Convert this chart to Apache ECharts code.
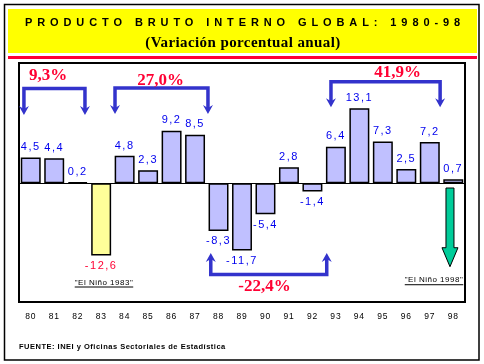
<!DOCTYPE html>
<html>
<head>
<meta charset="utf-8">
<script src="https://cdn.jsdelivr.net/npm/echarts/dist/echarts.min.js"></script>
<style>
html,body{margin:0;padding:0;background:#fff;}
#chart{width:484px;height:364px;}
</style>
</head>
<body>
<div id="chart"></div>
<script>
// ---- data ----
const years = ['80','81','82','83','84','85','86','87','88','89','90','91','92','93','94','95','96','97','98'];
const growth = [4.5, 4.4, 0.2, -12.6, 4.8, 2.3, 9.2, 8.5, -8.3, -11.7, -5.4, 2.8, -1.4, 6.4, 13.1, 7.3, 2.5, 7.2, 0.7];
const spanStart = ['80', '84', '93', '88'];
const spanEnd = ['82', '87', '97', '92'];
const spanLabels = ['9,3%', '27,0%', '41,9%', '-22,4%'];
const ninoYears = ['83', '98'];
const ninoLabels = ['"El Niño 1983"', '"El Niño 1998"'];
const titleText = 'PRODUCTO BRUTO INTERNO GLOBAL: 1980-98';
const subtitleText = '(Variación porcentual anual)';
const sourceText = 'FUENTE: INEI y Oficinas Sectoriales de Estadística';
const highlightYear = '83';
const arrowYear = '98';

// ---- letter spacing support: font family token lsNNx => NN/10 px ----
(function () {
  const proto = CanvasRenderingContext2D.prototype;
  const desc = Object.getOwnPropertyDescriptor(proto, 'font');
  if (!desc || !('letterSpacing' in proto)) return;
  Object.defineProperty(proto, 'font', {
    configurable: true,
    get() { return desc.get.call(this); },
    set(v) {
      desc.set.call(this, v);
      const m = /ls(\d+)x/.exec(v);
      this.letterSpacing = m ? (m[1] / 10) + 'px' : '0px';
    }
  });
})();

// ---- styles / layout ----
const SANS = '"Liberation Sans", Arial';
const SERIF = '"Liberation Serif", "Times New Roman"';
const lavender = '#C0C0FF';
const yellowBar = '#FFFF99';
const labelBlue = '#0000EE';
const red = '#FF0033';
const bracketColor = '#3333CC';
const greenArrow = '#00CC99';

// bracket layout (offsets in category units, y in value units)
const bracketLayout = [
  {dl: 0.21, dr: -0.19, yBar: 16.55, yTip: 11.93, tx: 0.74, ty: 18.74},
  {dl: 0.09, dr: 0.05, yBar: 16.64, yTip: 12.1, tx: 5.53, ty: 17.86},
  {dl: 0.29, dr: -0.06, yBar: 17.74, yTip: 13.3, tx: 15.63, ty: 19.26},
  {dl: 0.17, dr: 0.11, yBar: -15.9, yTip: -12.14, tx: 9.96, ty: -18.09}
];
const ninoLayout = [
  {dx: 0.12, y: -17.3},
  {dx: -0.82, y: -16.9}
];
const arrowLayout = {dx: -0.14, yTop: -0.81, yBase: -11.23, yTip: -14.54};

const ninoFont = '8px ' + SANS + ', ls5x';
const measureCtx = document.createElement('canvas').getContext('2d');
function textWidth(t, font) { measureCtx.font = font; return measureCtx.measureText(t).width; }

const chart = echarts.init(document.getElementById('chart'), null, {renderer: 'canvas'});

const barData = growth.map((v, i) => ({
  value: v,
  itemStyle: {color: years[i] === highlightYear ? yellowBar : lavender},
  label: {
    position: v >= 0 ? 'top' : 'bottom',
    color: years[i] === highlightYear ? red : labelBlue
  }
}));

const option = {
  animation: false,
  backgroundColor: '#fff',
  grid: {left: 19, top: 63, width: 446, height: 239, show: true, borderColor: '#000', borderWidth: 2, backgroundColor: '#fff', containLabel: false},
  xAxis: [
    {
      type: 'category', data: years, position: 'bottom',
      axisLine: {show: false, onZero: false}, axisTick: {show: false}, splitLine: {show: false},
      axisLabel: {margin: 10, fontSize: 8.5, color: '#000', fontFamily: SANS + ', ls8x'}
    },
    {type: 'value', min: -0.5, max: 18.5, show: false}
  ],
  yAxis: [{type: 'value', min: -20.7, max: 21, show: false, splitLine: {show: false}}],
  series: [
    {
      type: 'bar', xAxisIndex: 0, yAxisIndex: 0,
      barWidth: '85%',
      data: barData,
      itemStyle: {borderColor: '#000', borderWidth: 1.5},
      label: {
        show: true, distance: 4, fontSize: 11, fontFamily: SANS + ', ls15x',
        formatter: p => p.value.toFixed(1).replace('.', ',')
      },
      markLine: {
        silent: true, symbol: ['none', 'none'], label: {show: false},
        lineStyle: {color: '#000', width: 1, type: 'solid'},
        data: [{yAxis: 0}]
      },
      z: 2
    },
    {
      type: 'custom', xAxisIndex: 1, yAxisIndex: 0, silent: true, z: 5,
      data: spanLabels.map((_, i) => [i]),
      renderItem: (params, api) => {
        const i = params.dataIndex;
        const L = bracketLayout[i];
        const s = years.indexOf(spanStart[i]);
        const e = years.indexOf(spanEnd[i]);
        const xa = api.coord([s - 0.5 + L.dl, 0])[0];
        const xb = api.coord([e + 0.5 + L.dr, 0])[0];
        const yb = api.coord([0, L.yBar])[1];
        const yt = api.coord([0, L.yTip])[1];
        const dir = yt > yb ? 1 : -1;
        const head = 9, hw = 5;
        const children = [{
          type: 'polyline',
          shape: {points: [[xa, yt - dir * 5], [xa, yb], [xb, yb], [xb, yt - dir * 5]]},
          style: {stroke: bracketColor, lineWidth: 3.5, fill: null, lineJoin: 'miter'}
        }];
        [xa, xb].forEach(x => children.push({
          type: 'polygon',
          shape: {points: [[x, yt], [x - hw, yt - dir * head], [x, yt - dir * 6], [x + hw, yt - dir * head]]},
          style: {fill: bracketColor}
        }));
        const tp = api.coord([L.tx, L.ty]);
        children.push({
          type: 'text', x: tp[0], y: tp[1],
          style: {text: spanLabels[i], fill: red, font: 'bold 17px ' + SERIF, align: 'center', verticalAlign: 'middle'}
        });
        return {type: 'group', children};
      }
    },
    {
      type: 'custom', xAxisIndex: 1, yAxisIndex: 0, silent: true, z: 5,
      data: ninoLabels.map((_, i) => [i]),
      renderItem: (params, api) => {
        const i = params.dataIndex;
        const L = ninoLayout[i];
        const p = api.coord([years.indexOf(ninoYears[i]) + L.dx, L.y]);
        const w = textWidth(ninoLabels[i], ninoFont);
        return {
          type: 'group', children: [
            {type: 'text', x: p[0], y: p[1], style: {text: ninoLabels[i], fill: '#000', font: ninoFont, align: 'center', verticalAlign: 'middle'}},
            {type: 'line', shape: {x1: p[0] - w / 2, y1: p[1] + 4.5, x2: p[0] + w / 2, y2: p[1] + 4.5}, style: {stroke: '#000', lineWidth: 1}}
          ]
        };
      }
    },
    {
      type: 'custom', xAxisIndex: 1, yAxisIndex: 0, silent: true, z: 5,
      data: [[0]],
      renderItem: (params, api) => {
        const cx = years.indexOf(arrowYear) + arrowLayout.dx;
        const x = api.coord([cx, 0])[0];
        const yTop = api.coord([cx, arrowLayout.yTop])[1];
        const yBase = api.coord([cx, arrowLayout.yBase])[1];
        const yTip = api.coord([cx, arrowLayout.yTip])[1];
        return {
          type: 'polygon',
          shape: {points: [[x - 4, yTop], [x + 4, yTop], [x + 4, yBase], [x + 8, yBase], [x, yTip], [x - 8, yBase], [x - 4, yBase]]},
          style: {fill: greenArrow, stroke: '#000', lineWidth: 1}
        };
      }
    }
  ],
  graphic: [
    {type: 'rect', silent: true, shape: {x: 4.5, y: 4.5, width: 474.5, height: 355.5}, style: {fill: null, stroke: '#000', lineWidth: 1.5}},
    {type: 'rect', silent: true, shape: {x: 8, y: 9, width: 469, height: 44}, style: {fill: '#FFFF00'}},
    {type: 'rect', silent: true, shape: {x: 8, y: 56, width: 469, height: 3}, style: {fill: red}},
    {type: 'text', silent: true, x: 245, y: 23, style: {text: titleText, fill: '#000', font: 'bold 11px ' + SANS + ', ls49x', align: 'center', verticalAlign: 'middle'}},
    {type: 'text', silent: true, x: 243, y: 43, style: {text: subtitleText, fill: '#000', font: 'bold 15px ' + SERIF + ', ls4x', align: 'center', verticalAlign: 'middle'}},
    {type: 'text', silent: true, x: 19, y: 347, style: {text: sourceText, fill: '#000', font: 'bold 7.5px ' + SANS + ', ls5x', align: 'left', verticalAlign: 'middle'}}
  ]
};
chart.setOption(option);
</script>
</body>
</html>
